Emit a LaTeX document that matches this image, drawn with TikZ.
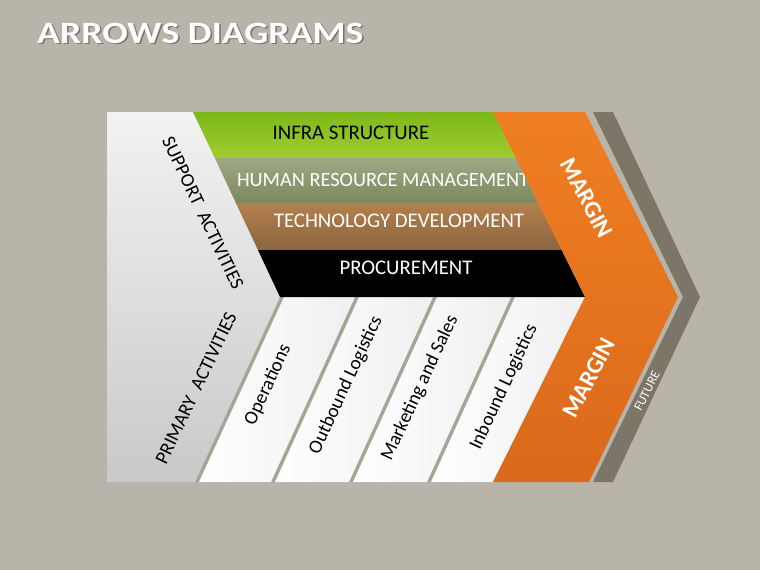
\documentclass[tikz,border=0pt]{standalone}
\usepackage{fontspec}
\setmainfont{Carlito}
\definecolor{bgc}{HTML}{B9B4AA}
\definecolor{gapc}{HTML}{A9A397}
\definecolor{paneltop}{HTML}{F2F2F2}
\definecolor{panelbot}{HTML}{C9C9C9}
\definecolor{greentop}{HTML}{7DB71A}
\definecolor{greenbot}{HTML}{A0CE30}
\definecolor{humantop}{HTML}{A0A886}
\definecolor{humanbot}{HTML}{7D885C}
\definecolor{techtop}{HTML}{B47F4C}
\definecolor{techbot}{HTML}{8A6640}
\definecolor{orangetop}{HTML}{F07E22}
\definecolor{orangebot}{HTML}{DA691C}
\definecolor{futurec}{HTML}{7C7669}
\definecolor{colgrey}{HTML}{EFEFEF}
\begin{document}
\begin{tikzpicture}[x=1pt,y=-1pt,
  bartext/.style={font=\fontsize{20.8}{22}\selectfont, inner sep=0pt},
  coltext/.style={font=\fontsize{19.3}{21}\selectfont, inner sep=0pt, text=black},
  margintext/.style={font=\bfseries\fontsize{24}{26}\selectfont, inner sep=0pt, text=white},
  titletext/.style={anchor=base west, font=\bfseries\fontsize{31}{33}\selectfont, inner sep=0pt},
  colbox/.style={left color=white, right color=colgrey}]
\fill[bgc] (0,0) rectangle (760,570);
\useasboundingbox (0,0) rectangle (760,570);
% title
\node[titletext, text=black, opacity=0.35] (titleshadow) at (38.5,44.5) {\scalebox{1.22}[1]{ARROWS DIAGRAMS}};
\node[titletext, text=white] (title) at (37,43) {\scalebox{1.22}[1]{ARROWS DIAGRAMS}};
% gap backing for the columns
\fill[gapc] (280,297) -- (585,297) -- (493,482) -- (195,482) -- cycle;
% columns
\shade[colbox] (284,297) -- (355,297) -- (271,482) -- (199,482) -- cycle;
\shade[colbox] (359,297) -- (433,297) -- (349,482) -- (275,482) -- cycle;
\shade[colbox] (437,297) -- (511,297) -- (427,482) -- (353,482) -- cycle;
\shade[colbox] (515,297) -- (585,297) -- (493,482) -- (431,482) -- cycle;
% left panel
\shade[top color=paneltop, bottom color=panelbot] (107,112) -- (193,112) -- (280,297) -- (195,482) -- (107,482) -- cycle;
% support bars
\shade[top color=greentop, bottom color=greenbot] (193,112) -- (493,112) -- (516,158) -- (215,158) -- cycle;
\shade[top color=humantop, bottom color=humanbot] (215,158) -- (516,158) -- (538,203) -- (236,203) -- cycle;
\shade[top color=techtop, bottom color=techbot] (236,203) -- (538,203) -- (562,250) -- (258,250) -- cycle;
\fill[black] (258,250) -- (562,250) -- (585,297) -- (280,297) -- cycle;
\node[bartext, text=black] (infra) at (351,133) {INFRA STRUCTURE};
\node[bartext, text=white, font=\fontsize{20.3}{22}\selectfont] (human) at (383,180) {HUMAN RESOURCE MANAGEMENT};
\node[bartext, text=white] (tech) at (399,221) {TECHNOLOGY DEVELOPMENT};
\node[bartext, text=white] (proc) at (406,268) {PROCUREMENT};
% future strip
\fill[futurec] (593,112) -- (613,112) -- (700,297) -- (613,482) -- (593,482) -- (683,297) -- cycle;
% margin chevron
\shade[top color=orangetop, bottom color=orangebot] (493,112) -- (585,112) -- (678,297) -- (589,482) -- (493,482) -- (585,297) -- cycle;
% rotated labels
\node[coltext, rotate=-64.5] (support) at (203,213) {SUPPORT\ \ ACTIVITIES};
\node[coltext, rotate=64.5] (primary) at (196,388) {PRIMARY\ \ ACTIVITIES};
\node[coltext, rotate=65] (ops) at (268,385) {Operations};
\node[coltext, rotate=65] (outb) at (346,385) {Outbound Logistics};
\node[coltext, rotate=65] (mkt) at (420,388) {Marketing and Sales};
\node[coltext, rotate=65] (inb) at (504,387) {Inbound Logistics};
\node[margintext, rotate=-62] (margin1) at (587,198) {MARGIN};
\node[margintext, rotate=62] (margin2) at (589,378) {MARGIN};
\node[font=\fontsize{13}{15}\selectfont, text=white, inner sep=0pt, rotate=63] (future) at (647,391) {FUTURE};
\end{tikzpicture}
\end{document}
